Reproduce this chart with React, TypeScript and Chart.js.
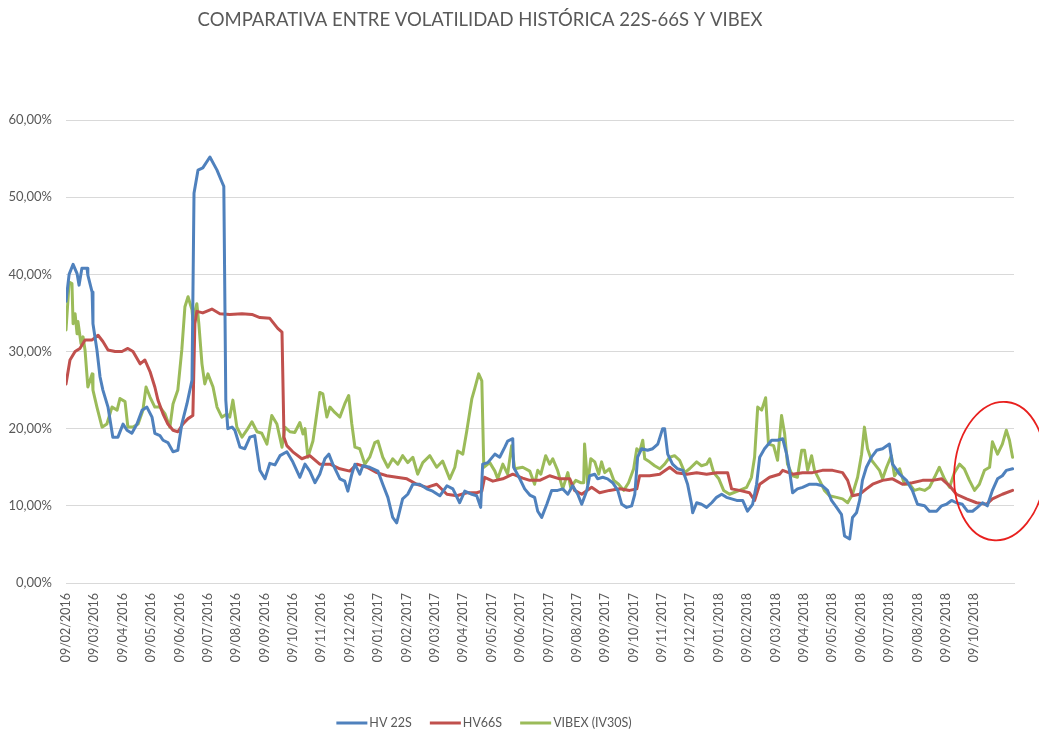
import React, { useEffect, useRef } from 'react';
import { Chart, registerables } from 'chart.js';

Chart.register(...registerables);

const TITLE = 'COMPARATIVA ENTRE VOLATILIDAD HISTÓRICA 22S-66S Y VIBEX';

const monthLabels = [
  '09/02/2016', '09/03/2016', '09/04/2016', '09/05/2016', '09/06/2016', '09/07/2016',
  '09/08/2016', '09/09/2016', '09/10/2016', '09/11/2016', '09/12/2016',
  '09/01/2017', '09/02/2017', '09/03/2017', '09/04/2017', '09/05/2017', '09/06/2017',
  '09/07/2017', '09/08/2017', '09/09/2017', '09/10/2017', '09/11/2017', '09/12/2017',
  '09/01/2018', '09/02/2018', '09/03/2018', '09/04/2018', '09/05/2018', '09/06/2018',
  '09/07/2018', '09/08/2018', '09/09/2018', '09/10/2018',
];

const seriesNames = ['HV 22S', 'HV66S', 'VIBEX (IV30S)'];
const seriesColors = ['#4F81BD', '#C0504D', '#9BBB59'];

// x = months elapsed since 09/02/2016, y = volatility in %
const hv22Months = [
  0, 0.11, 0.25, 0.39, 0.46, 0.56, 0.74, 0.77, 0.92, 0.95, 1.09, 1.2, 1.3, 1.48, 1.65, 1.83,
  2.01, 2.15, 2.32, 2.5, 2.68, 2.85, 3.03, 3.13, 3.31, 3.42, 3.59, 3.77, 3.94, 4.08, 4.26, 4.44,
  4.51, 4.65, 4.82, 5.07, 5.32, 5.49, 5.56, 5.63, 5.7, 5.85, 5.95, 6.13, 6.3, 6.48, 6.65, 6.83,
  7.01, 7.18, 7.36, 7.54, 7.78, 7.99, 8.24, 8.42, 8.59, 8.77, 8.94, 9.12, 9.26, 9.4, 9.65, 9.82,
  9.93, 10.07, 10.18, 10.35, 10.46, 10.7, 10.99, 11.16, 11.34, 11.51, 11.65, 11.76, 11.86, 12.04,
  12.22, 12.46, 12.71, 12.92, 13.17, 13.42, 13.63, 13.87, 14.05, 14.3, 14.47, 14.61, 14.68, 14.86,
  15.11, 15.28, 15.46, 15.56, 15.74, 15.77, 15.99, 16.16, 16.34, 16.51, 16.62, 16.76, 16.94, 17.11,
  17.32, 17.5, 17.68, 17.85, 18.03, 18.17, 18.35, 18.45, 18.63, 18.73, 18.91, 19.08, 19.26, 19.44,
  19.58, 19.75, 19.93, 20.04, 20.14, 20.28, 20.49, 20.67, 20.85, 21.02, 21.09, 21.2, 21.37, 21.55,
  21.73, 21.9, 22.04, 22.08, 22.22, 22.39, 22.57, 22.75, 22.92, 23.1, 23.27, 23.45, 23.63, 23.84,
  24.01, 24.19, 24.33, 24.44, 24.61, 24.86, 25.07, 25.25, 25.39, 25.49, 25.6, 25.77, 25.95, 26.2,
  26.44, 26.65, 26.83, 26.97, 27.15, 27.32, 27.43, 27.61, 27.71, 27.85, 27.96, 28.06, 28.2, 28.38,
  28.56, 28.77, 29.01, 29.12, 29.37, 29.61, 29.82, 30.0, 30.25, 30.42, 30.67, 30.85, 31.02, 31.2,
  31.37, 31.58, 31.76, 31.94, 32.11, 32.29, 32.46, 32.64, 32.82, 32.99, 33.13, 33.35,
];
const hv22Values = [
  36.5, 40.0, 41.3, 40.1, 38.6, 40.8, 40.8, 39.9, 37.7, 33.6, 30.2, 26.7, 25.0, 22.8, 18.9, 18.9,
  20.6, 19.8, 19.4, 20.6, 22.4, 22.8, 21.5, 19.4, 19.1, 18.5, 18.2, 17.0, 17.2, 20.6, 23.2, 26.3,
  50.5, 53.5, 53.8, 55.2, 53.5, 52.0, 51.4, 23.7, 20.0, 20.2, 19.8, 17.6, 17.4, 18.9, 19.1, 14.6,
  13.5, 15.5, 15.3, 16.5, 17.0, 15.7, 13.7, 15.4, 14.5, 13.0, 14.1, 16.1, 16.7, 15.4, 13.5, 13.2,
  11.9, 14.1, 15.4, 14.1, 15.2, 15.0, 14.5, 12.8, 11.1, 8.5, 7.8, 9.4, 10.9, 11.5,
  12.8, 12.8, 12.2, 11.9, 11.3, 12.6, 12.2, 10.4, 11.9, 11.5, 11.3, 9.8, 15.4, 15.6,
  16.7, 16.3, 17.6, 18.4, 18.7, 15.0, 13.5, 12.2, 11.4, 11.1, 9.3, 8.5, 10.2, 12.0,
  12.0, 12.2, 11.5, 12.6, 11.5, 10.2, 12.0, 13.9, 14.1, 13.5, 13.7, 13.5, 13.0, 12.0,
  10.2, 9.8, 10.0, 11.5, 16.3, 17.4, 17.2, 17.4, 18.0, 20.0, 20.0, 16.7, 15.4, 14.8,
  14.6, 12.8, 10.2, 9.1, 10.4, 10.2, 9.8, 10.4, 11.1, 11.5, 11.1, 10.9, 10.7, 10.7,
  9.3, 10.2, 12.8, 16.3, 17.4, 18.5, 18.5, 18.7, 16.7, 14.6, 11.7, 12.2, 12.4, 12.8,
  12.8, 12.6, 12.0, 10.7, 9.8, 8.9, 6.1, 5.7, 8.5, 9.1, 10.7, 13.3, 15.0, 16.3,
  17.2, 17.4, 18.0, 15.4, 14.1, 13.3, 12.0, 10.2, 10.0, 9.3, 9.3, 10.0, 10.2, 10.7,
  10.4, 10.2, 9.3, 9.3, 9.8, 10.4, 10.0, 12.0, 13.5, 13.9, 14.6, 14.8,
];

const hv66Months = [
  0, 0.14, 0.32, 0.49, 0.67, 0.92, 1.13, 1.3, 1.48, 1.73, 1.97, 2.18, 2.36, 2.61, 2.78, 2.96,
  3.13, 3.24, 3.42, 3.59, 3.77, 3.94, 4.12, 4.3, 4.47, 4.54, 4.61, 4.82, 5.14, 5.42, 5.77, 6.2,
  6.55, 6.83, 7.18, 7.46, 7.61, 7.68, 7.78, 7.99, 8.31, 8.59, 8.94, 9.3, 9.65, 10.0, 10.25, 10.6,
  10.95, 11.3, 11.65, 12.01, 12.36, 12.71, 13.06, 13.42, 13.77, 14.12, 14.47, 14.65, 14.75, 15.04,
  15.39, 15.74, 16.09, 16.34, 16.69, 17.04, 17.39, 17.75, 17.92, 18.17, 18.52, 18.8, 19.15, 19.51,
  19.86, 20.11, 20.21, 20.56, 20.92, 21.27, 21.51, 21.87, 22.22, 22.57, 22.92, 23.31, 23.45, 23.73,
  24.08, 24.26, 24.44, 24.79, 25.14, 25.25, 25.6, 25.95, 26.3, 26.65, 27.01, 27.36, 27.54, 27.71,
  27.96, 28.2, 28.42, 28.77, 29.12, 29.47, 29.82, 30.18, 30.53, 30.85, 31.13, 31.37, 31.73, 32.08,
  32.43, 32.64, 32.99, 33.35,
];
const hv66Values = [
  25.8, 28.9, 30.0, 30.4, 31.5, 31.5, 32.1, 31.3, 30.2, 30.0, 30.0, 30.4, 30.0, 28.4, 28.9, 27.4,
  25.4, 23.7, 21.9, 20.6, 19.8, 19.6, 20.6, 21.3, 21.7, 33.6, 35.2, 35.0, 35.5, 34.9, 34.8, 34.9,
  34.8, 34.4, 34.3, 33.0, 32.5, 18.9, 17.8, 17.0, 16.1, 16.5, 15.4, 15.4, 14.8, 14.5, 15.4, 15.0,
  14.3, 13.9, 13.7, 13.5, 12.8, 12.4, 12.8, 11.5, 11.3, 11.7, 11.7, 11.9, 13.7, 13.2,
  13.5, 14.1, 13.6, 13.3, 13.3, 13.9, 13.5, 13.5, 12.0, 11.5, 12.4, 11.7, 12.0, 12.2,
  12.0, 12.2, 13.9, 13.9, 14.1, 15.0, 14.3, 14.1, 14.3, 14.1, 14.3, 14.3, 12.2, 12.0,
  11.7, 10.7, 12.8, 13.7, 14.1, 14.6, 14.1, 14.3, 14.3, 14.6, 14.6, 14.3, 13.3, 11.3,
  11.5, 12.2, 12.8, 13.3, 13.5, 12.8, 13.0, 13.3, 13.3, 13.5, 12.6, 11.5, 10.9, 10.4,
  10.2, 10.9, 11.5, 12.0,
];

const vibexMonths = [
  0, 0.11, 0.21, 0.25, 0.32, 0.39, 0.42, 0.53, 0.6, 0.67, 0.77, 0.92, 0.95, 1.09, 1.27, 1.44,
  1.62, 1.8, 1.9, 2.08, 2.18, 2.36, 2.54, 2.71, 2.82, 2.96, 3.13, 3.31, 3.49, 3.66, 3.77, 3.94,
  4.08, 4.19, 4.3, 4.44, 4.47, 4.61, 4.68, 4.79, 4.89, 5.0, 5.18, 5.32, 5.49, 5.67, 5.77, 5.88,
  6.02, 6.2, 6.37, 6.55, 6.73, 6.9, 7.08, 7.25, 7.43, 7.61, 7.71, 7.89, 8.06, 8.24, 8.35, 8.42,
  8.52, 8.7, 8.8, 8.94, 9.05, 9.19, 9.3, 9.47, 9.65, 9.82, 9.96, 10.07, 10.18, 10.35, 10.53, 10.7,
  10.88, 10.99, 11.16, 11.34, 11.51, 11.69, 11.86, 12.04, 12.22, 12.39, 12.57, 12.82, 13.06, 13.27,
  13.52, 13.7, 13.8, 13.98, 14.12, 14.3, 14.4, 14.54, 14.65, 14.72, 14.93, 15.11, 15.21, 15.39,
  15.56, 15.7, 15.81, 16.09, 16.34, 16.51, 16.62, 16.73, 16.9, 17.04, 17.15, 17.32, 17.5, 17.68,
  17.78, 17.96, 18.13, 18.24, 18.27, 18.38, 18.49, 18.63, 18.77, 18.87, 18.98, 19.15, 19.3, 19.47,
  19.65, 19.82, 20.0, 20.11, 20.21, 20.32, 20.39, 20.56, 20.74, 20.92, 21.09, 21.27, 21.44, 21.62,
  21.8, 21.97, 22.22, 22.39, 22.57, 22.68, 22.82, 23.0, 23.17, 23.38, 23.73, 23.98, 24.15, 24.26,
  24.37, 24.51, 24.65, 24.75, 24.93, 25.07, 25.21, 25.32, 25.42, 25.6, 25.77, 25.92, 26.02, 26.13,
  26.27, 26.37, 26.55, 26.72, 26.9, 27.15, 27.36, 27.54, 27.71, 27.89, 28.03, 28.13, 28.24, 28.38,
  28.49, 28.66, 28.77, 28.91, 29.08, 29.19, 29.37, 29.54, 29.72, 29.89, 30.07, 30.25, 30.42, 30.6,
  30.77, 30.95, 31.13, 31.3, 31.48, 31.65, 31.83, 32.01, 32.18, 32.36, 32.54, 32.64, 32.82, 32.99,
  33.13, 33.24, 33.35,
];
const vibexValues = [
  32.8, 39.0, 38.8, 33.6, 34.9, 32.3, 33.9, 31.0, 31.9, 30.2, 25.4, 27.1, 25.0, 22.8, 20.2, 20.6,
  22.8, 22.4, 23.9, 23.5, 20.2, 20.2, 20.6, 22.4, 25.4, 24.1, 22.8, 22.8, 21.9, 20.2, 23.2, 25.0,
  30.2, 35.8, 37.1, 35.4, 34.1, 36.2, 33.6, 28.4, 25.8, 27.1, 25.4, 22.8, 21.5, 21.9, 21.5, 23.7,
  20.2, 18.9, 19.8, 20.9, 19.6, 19.4, 18.0, 21.7, 20.6, 17.6, 20.2, 19.6, 19.5, 20.8, 19.3, 20.0,
  16.3, 18.4, 21.0, 24.7, 24.5, 21.5, 22.8, 22.1, 21.5, 23.2, 24.3, 20.6, 17.6, 17.4, 15.4, 16.3,
  18.2, 18.4, 16.3, 15.0, 16.1, 15.4, 16.5, 15.6, 16.3, 14.1, 15.6, 16.5, 15.0, 15.8,
  13.5, 15.0, 17.1, 16.7, 19.7, 23.9, 25.2, 27.1, 26.2, 15.0, 15.6, 14.5, 13.5, 15.4,
  14.1, 17.8, 14.8, 15.0, 14.5, 12.8, 14.6, 14.1, 16.5, 15.4, 16.1, 14.6, 12.2, 14.3,
  12.4, 13.3, 13.0, 13.0, 18.0, 12.8, 16.1, 15.7, 14.1, 15.7, 14.3, 14.8, 13.3, 12.8,
  12.0, 13.0, 14.8, 17.4, 17.0, 18.5, 16.1, 15.7, 15.2, 14.8, 15.4, 16.3, 16.5, 15.9,
  14.3, 14.8, 15.7, 15.2, 15.4, 16.1, 14.3, 13.5, 12.0, 11.5, 12.0, 12.4, 13.7, 16.3,
  22.8, 22.4, 24.0, 18.0, 17.8, 15.9, 21.7, 19.3, 15.4, 13.9, 13.7, 17.2, 17.2, 14.6,
  16.5, 14.6, 13.3, 12.0, 11.3, 11.1, 10.9, 10.4, 11.5, 13.7, 16.7, 20.2, 17.4, 15.9,
  15.4, 14.6, 13.5, 15.0, 16.5, 13.9, 14.8, 12.8, 12.8, 12.0, 12.2, 12.0, 12.4, 13.7,
  15.0, 13.5, 12.4, 14.3, 15.4, 14.8, 13.3, 12.0, 12.8, 14.6, 15.0, 18.3, 16.7, 18.0,
  19.8, 18.5, 16.3,
];

// Hand-drawn highlight ellipse (data units: months, %)
const highlightCenter = [32.9, 14.5];
const highlightRadii = [1.6, 9.0];

const TEXT_COLOR = '#595959';
const FONT = 'Lato, "Open Sans", sans-serif';

function toPoints(xs: number[], ys: number[]) {
  return xs.map((x, i) => ({ x, y: ys[i] }));
}

const overlayPlugin = {
  id: 'overlay',
  afterDraw(chart: any) {
    const ctx = chart.ctx as CanvasRenderingContext2D;
    ctx.save();
    // title
    ctx.font = `18.5px ${FONT}`;
    ctx.fillStyle = TEXT_COLOR;
    ctx.textAlign = 'center';
    ctx.textBaseline = 'middle';
    ctx.fillText(TITLE, 480, 20);

    // legend
    ctx.font = `12.5px ${FONT}`;
    const lineW = 31;
    const gapText = 2;
    const gapItem = 18;
    const widths = seriesNames.map((n) => ctx.measureText(n).width);
    const total = widths.reduce((a, w) => a + lineW + gapText + w, 0) + gapItem * (seriesNames.length - 1);
    let x = 484 - total / 2;
    const ly = 723;
    ctx.textAlign = 'left';
    seriesNames.forEach((n, i) => {
      ctx.strokeStyle = seriesColors[i];
      ctx.lineWidth = 3;
      ctx.beginPath();
      ctx.moveTo(x, ly);
      ctx.lineTo(x + lineW, ly);
      ctx.stroke();
      ctx.fillStyle = TEXT_COLOR;
      ctx.fillText(n, x + lineW + gapText, ly);
      x += lineW + gapText + widths[i] + gapItem;
    });

    // highlight ellipse
    const xs = chart.scales.x;
    const ys = chart.scales.y;
    const cx = xs.getPixelForValue(highlightCenter[0]);
    const cy = ys.getPixelForValue(highlightCenter[1]);
    const rx = xs.getPixelForValue(highlightCenter[0] + highlightRadii[0]) - cx;
    const ry = cy - ys.getPixelForValue(highlightCenter[1] + highlightRadii[1]);
    ctx.strokeStyle = '#E8201E';
    ctx.lineWidth = 1.8;
    ctx.beginPath();
    ctx.ellipse(cx, cy, rx, ry, 0.1, 0, Math.PI * 2);
    ctx.stroke();
    ctx.restore();
  },
};

export default function App() {
  const canvasRef = useRef<HTMLCanvasElement | null>(null);

  useEffect(() => {
    if (!canvasRef.current) return;
    const datasets = [
      toPoints(hv22Months, hv22Values),
      toPoints(hv66Months, hv66Values),
      toPoints(vibexMonths, vibexValues),
    ].map((data, i) => ({
      label: seriesNames[i],
      data,
      borderColor: seriesColors[i],
      backgroundColor: seriesColors[i],
      borderWidth: 3,
      pointRadius: 0,
      tension: 0,
      borderJoinStyle: 'round' as const,
      borderCapStyle: 'round' as const,
    }));

    const chart = new Chart(canvasRef.current, {
      type: 'line',
      data: { datasets },
      options: {
        animation: false,
        responsive: true,
        maintainAspectRatio: false,
        layout: { padding: { top: 120, right: 24, left: 0, bottom: 0 } },
        plugins: {
          legend: { display: false },
          title: { display: false },
          tooltip: { enabled: false },
        },
        scales: {
          x: {
            type: 'linear',
            min: 0,
            max: 33.4,
            afterFit: (scale: any) => {
              scale.height = 148;
            },
            grid: { display: false, drawTicks: false },
            border: { display: true, color: '#D9D9D9', width: 1 },
            ticks: {
              stepSize: 1,
              autoSkip: false,
              minRotation: 90,
              maxRotation: 90,
              padding: 10,
              color: TEXT_COLOR,
              font: { family: FONT, size: 12.5 },
              callback: (v: any) => {
                const n = Number(v);
                return Number.isInteger(n) && monthLabels[n] ? monthLabels[n] : '';
              },
            },
          },
          y: {
            min: 0,
            max: 60,
            afterFit: (scale: any) => {
              scale.width = 66;
            },
            grid: { color: '#D9D9D9', drawTicks: false, lineWidth: 1 },
            border: { display: false },
            ticks: {
              stepSize: 10,
              padding: 14,
              color: TEXT_COLOR,
              font: { family: FONT, size: 13 },
              callback: (v: any) => Number(v).toFixed(2).replace('.', ',') + '%',
            },
          },
        },
      },
      plugins: [overlayPlugin],
    });
    return () => chart.destroy();
  }, []);

  return (
    <div style={{ position: 'fixed', left: 0, top: 0, width: 1039, height: 731, background: '#fff' }}>
      <canvas ref={canvasRef} />
    </div>
  );
}
